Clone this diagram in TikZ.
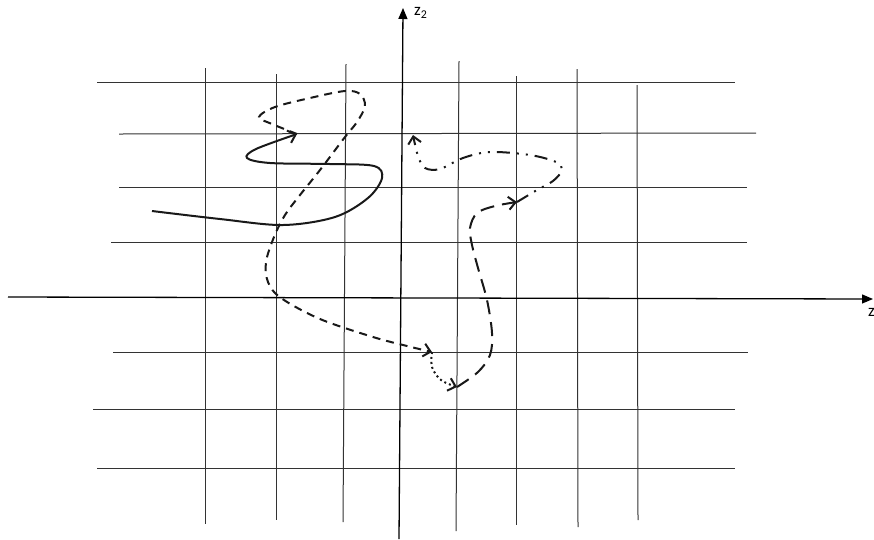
\documentclass[tikz,border=0pt]{standalone}
\usepackage{fontspec}
\setmainfont{Carlito}
\usetikzlibrary{arrows.meta}
\tikzset{
  gridline/.style={line width=1pt, draw=black!80},
  axisline/.style={line width=1.3pt, draw=black, -{Triangle[length=11pt,width=9pt]}},
  curve/.style={line width=2pt, draw=black!90, line cap=butt},
  barb/.style={-{Straight Barb[length=7pt,width=13pt,line width=2pt]}},
  dashA/.style={dash pattern=on 8pt off 6pt},
  dashB/.style={dash pattern=on 14pt off 8pt},
  dotC/.style={dash pattern=on 2pt off 3pt},
  dashD/.style={dash pattern=on 13pt off 7pt on 2pt off 7pt on 2pt off 7pt},
  lbl/.style={inner sep=0pt, font=\fontsize{17pt}{17pt}\selectfont}
}
\begin{document}
\begin{tikzpicture}[x=1pt,y=-1pt]
\useasboundingbox (0,0) rectangle (874,539);
% horizontal grid lines
\draw[gridline] (97,82) -- (735,82);
\draw[gridline] (119,134) -- (756,133);
\draw[gridline] (119,187) -- (747,187);
\draw[gridline] (111,242) -- (747,242);
\draw[gridline] (113,352) -- (748,352);
\draw[gridline] (93,409) -- (735,409);
\draw[gridline] (97,468) -- (735,468);
% vertical grid lines
\draw[gridline] (205,68) -- (205,524);
\draw[gridline] (276,74) -- (276,520);
\draw[gridline] (346,64) -- (343,522);
\draw[gridline] (459,61) -- (456,531);
\draw[gridline] (516,76) -- (516,525);
\draw[gridline] (577,69) -- (578,527);
\draw[gridline] (637,85) -- (638,520);
% axes
\coordinate (xs) at (8,297);
\coordinate (xe) at (873,299);
\coordinate (ys) at (399,539);
\coordinate (ye) at (403,8);
\draw[axisline] (xs) -- (xe);
\draw[axisline] (ys) -- (ye);
\node[lbl, anchor=west] (lz2) at (414,13) {z\textsubscript{2}};
\node[lbl, anchor=east] (lz) at (875,312) {z};
% key points
\coordinate (s0) at (152,211);
\coordinate (a1) at (297,134);
\coordinate (a2) at (432,352);
\coordinate (a3) at (457,387);
\coordinate (a4) at (517,202);
\coordinate (a5) at (413,135);
% solid curve
\draw[curve, barb] plot[smooth, tension=0.55] coordinates {(s0) (220,219) (283,225) (335,217) (368,198) (382,178) (374,166) (330,164) (270,163) (247,158) (256,149) (a1)};
% dashed curve
\draw[curve, dashA, barb] plot[smooth, tension=0.55] coordinates {(a1) (272,124) (259,117) (275,107) (310,98) (345,91) (360,94) (365,106) (357,122) (345,137) (320,170) (300,195) (285,215) (274,237) (266,262) (268,282) (281,298) (320,319) (373,337) (407,346) (a2)};
% dotted curve
\draw[curve, dotC, barb] plot[smooth, tension=0.6] coordinates {(a2) (432,367) (441,380) (a3)};
% long dashed curve
\draw[curve, dashB, barb] plot[smooth, tension=0.55] coordinates {(a3) (478,372) (490,355) (492,333) (487,300) (478,268) (472,245) (470,228) (477,213) (495,206) (a4)};
% dash dot dot curve
\draw[curve, dashD, barb] plot[smooth, tension=0.55] coordinates {(a4) (537,190) (553,181) (562,170) (556,162) (530,155) (490,152) (463,158) (440,169) (425,168) (418,156) (a5)};
\end{tikzpicture}
\end{document}
